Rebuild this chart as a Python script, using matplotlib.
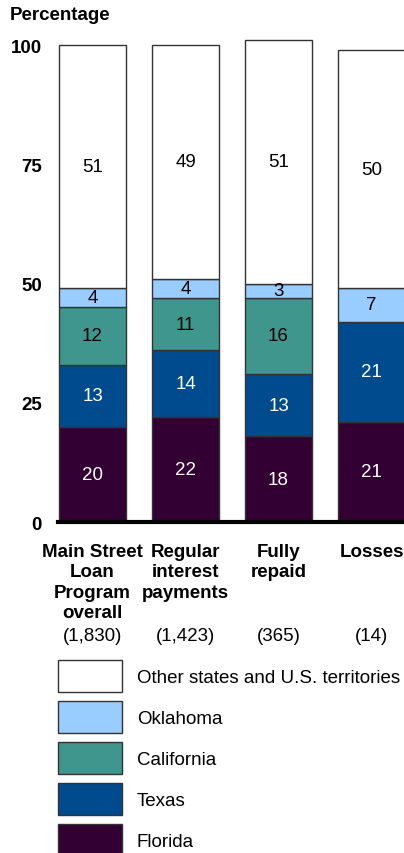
import matplotlib
matplotlib.use("Agg")
import matplotlib.pyplot as plt
import numpy as np

plt.rcParams['font.family'] = ['Liberation Sans', 'DejaVu Sans']

# data
categories = ["Main Street\nLoan\nProgram\noverall", "Regular\ninterest\npayments",
              "Fully\nrepaid", "Losses"]
counts = ["(1,830)", "(1,423)", "(365)", "(14)"]
series_names = ["Florida", "Texas", "California", "Oklahoma",
                "Other states and U.S. territories"]
florida = [20, 22, 18, 21]
texas = [13, 14, 13, 21]
california = [12, 11, 16, 0]
oklahoma = [4, 4, 3, 7]
other = [51, 49, 51, 50]
yticks = [0, 25, 50, 75, 100]

colors = ["#330033", "#004B8D", "#3F968C", "#99CCFF", "#FFFFFF"]
text_colors = ["white", "white", "black", "black", "black"]
fs = 13.5

fig = plt.figure(figsize=(4.04, 8.54), dpi=100)
ax = fig.add_axes([58 / 404, 1 - 523 / 854, 1 - 58 / 404, (523 - 36.5) / 854])

x = np.arange(len(categories))
width = 0.72
bottom = np.zeros(len(categories))
handles = []
for vals, name, col, tcol in zip([florida, texas, california, oklahoma, other],
                                 series_names, colors, text_colors):
    vals = np.array(vals, dtype=float)
    bars = ax.bar(x, vals, width, bottom=bottom, color=col, edgecolor="#333333",
                  linewidth=1.0, label=name)
    handles.append(bars)
    for xi, v, b in zip(x, vals, bottom):
        if v > 0:
            ax.text(xi, b + v / 2, f"{int(v)}", ha="center", va="center",
                    color=tcol, fontsize=fs)
    bottom += vals

ax.set_xlim(-0.371, 3.349)
ax.set_ylim(0, 102)
ax.set_yticks(yticks)
ax.set_yticklabels([str(t) for t in yticks], fontweight="bold", fontsize=fs)
ax.set_xticks(x)
ax.set_xticklabels(categories, fontweight="bold", fontsize=fs, linespacing=1.26)
ax.tick_params(axis="both", length=0)
ax.tick_params(axis="x", pad=15)
ax.tick_params(axis="y", pad=11.5)
for s in ["top", "right", "left"]:
    ax.spines[s].set_visible(False)
ax.spines["bottom"].set_linewidth(3)
ax.spines["bottom"].set_color("black")

for xi, c in zip(x, counts):
    ax.text(xi, -0.234, c, transform=ax.get_xaxis_transform(), ha="center",
            va="center", fontsize=fs)

fig.text(10 / 404, 1 - 16 / 854, "Percentage", fontweight="bold", fontsize=fs,
         va="center", ha="left")

fig.legend(handles[::-1], series_names[::-1], loc="upper left",
           bbox_to_anchor=(58 / 404, 1 - 661 / 854), frameon=False,
           fontsize=fs, handlelength=3.41, handleheight=2.25, labelspacing=0.48,
           handletextpad=0.8, borderpad=0, borderaxespad=0)

fig.savefig("out.png", dpi=100)
